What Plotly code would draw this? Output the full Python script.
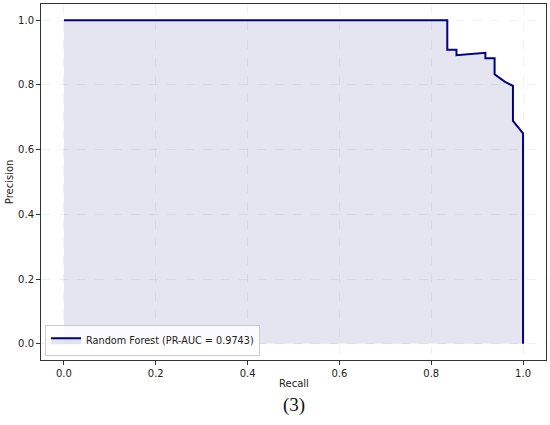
import plotly.graph_objects as go

recall = [0.0, 0.835, 0.835, 0.855, 0.855, 0.918, 0.918, 0.938, 0.938, 0.960, 0.978, 0.978, 1.0, 1.0]
precision = [1.0, 1.0, 0.909, 0.909, 0.892, 0.899, 0.882, 0.882, 0.833, 0.810, 0.797, 0.689, 0.650, 0.0]
label = "Random Forest (PR-AUC = 0.9743)"
tick_vals = [0.0, 0.2, 0.4, 0.6, 0.8, 1.0]
tick_text = ["0.0", "0.2", "0.4", "0.6", "0.8", "1.0"]

fig = go.Figure()
fig.add_trace(go.Scatter(
    x=recall, y=precision, mode="lines", fill="tozeroy",
    fillcolor="rgba(0,0,128,0.1)", line=dict(color="#000080", width=2),
    name=label, showlegend=True,
))

font = dict(family="DejaVu Sans", size=10, color="#222")
axis_common = dict(
    showline=True, linecolor="#333", linewidth=1, mirror=True,
    ticks="outside", ticklen=4, tickcolor="#333",
    showgrid=True, gridcolor="rgba(190,190,205,0.22)", griddash="dash", gridwidth=1,
    zeroline=False, tickfont=font, automargin=False,
    tickvals=tick_vals, ticktext=tick_text,
)
fig.update_layout(
    width=550, height=425,
    margin=dict(l=41, r=4, t=4, b=65),
    paper_bgcolor="white", plot_bgcolor="white",
    font=font,
    xaxis=dict(range=[-0.05, 1.05], **axis_common),
    yaxis=dict(range=[-0.05, 1.05], **axis_common),
    legend=dict(x=0.008, y=0.012, xanchor="left", yanchor="bottom",
                bgcolor="rgba(255,255,255,0.85)", bordercolor="#ccc", borderwidth=1,
                font=dict(family="DejaVu Sans", size=9.7, color="#222"), itemwidth=30),
    annotations=[
        dict(text="Recall", xref="paper", yref="paper", x=0.5, y=-0.065,
             xanchor="center", yanchor="middle", showarrow=False, font=font),
        dict(text="Precision", xref="paper", yref="paper", x=-0.063, y=0.5,
             xanchor="center", yanchor="middle", showarrow=False, textangle=-90, font=font),
        dict(text="(3)", xref="paper", yref="paper", x=0.5, y=-0.127,
             xanchor="center", yanchor="middle", showarrow=False,
             font=dict(family="Liberation Serif", size=19, color="#111")),
    ],
)
fig.write_html("out.html", config={"displayModeBar": False},
               post_script="document.body.style.margin='0';")
